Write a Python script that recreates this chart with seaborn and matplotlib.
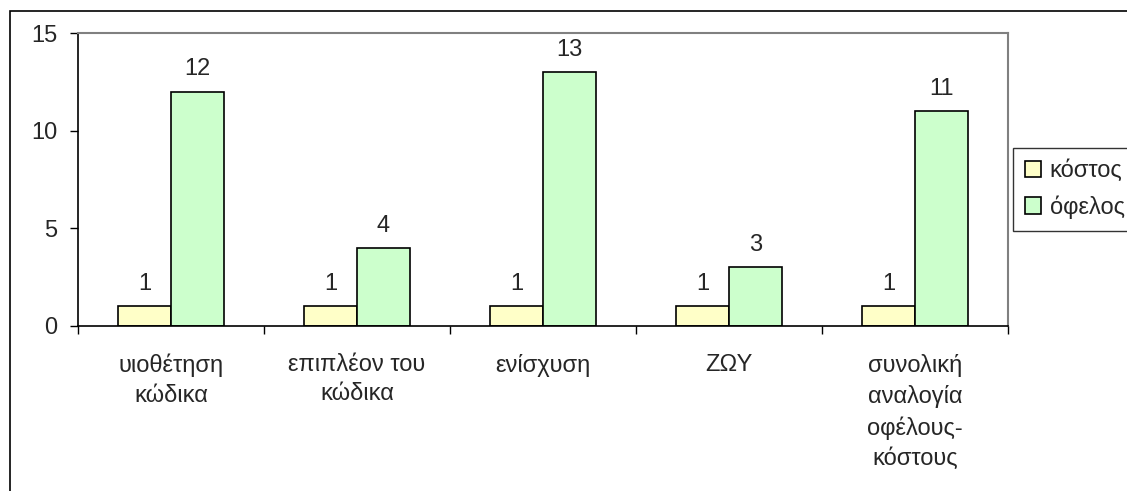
import numpy as np
import pandas as pd
import seaborn as sns
import matplotlib.pyplot as plt
from matplotlib.patches import Rectangle

categories = ["υιοθέτηση\nκώδικα", "επιπλέον του\nκώδικα", "ενίσχυση", "ΖΩΥ",
              "συνολική\nαναλογία\nοφέλους-\nκόστους"]
series = ["κόστος", "όφελος"]
kostos = [1, 1, 1, 1, 1]
ofelos = [12, 4, 13, 3, 11]

df = pd.DataFrame({
    "cat": categories * 2,
    "series": [series[0]] * 5 + [series[1]] * 5,
    "value": kostos + ofelos,
})

sns.set_style("white")
plt.rcParams['font.family'] = ['Liberation Sans', 'DejaVu Sans']
FS = 17

fig = plt.figure(figsize=(11.27, 4.91), dpi=100)
ax = fig.add_axes([78 / 1127, 1 - 326 / 491, 930 / 1127, 293 / 491])

sns.barplot(data=df, x="cat", y="value", hue="series", order=categories,
            hue_order=series, palette=["#FFFFC8", "#CCFFCC"], width=0.57,
            edgecolor="black", linewidth=1.2, saturation=1, ax=ax, legend=True)

for c in ax.containers:
    ax.bar_label(c, padding=8, fontsize=FS)

ax.set_xlim(-0.5, 4.5)
ax.set_ylim(0, 15)
ax.set_yticks([0, 5, 10, 15])
ax.set_xlabel("")
ax.set_ylabel("")
ax.tick_params(axis="y", direction="out", length=6, width=1, labelsize=FS, color="black",
               left=True, pad=9)
ax.tick_params(axis="x", which="major", length=0, labelsize=FS, pad=20)
ax.set_xticks(np.arange(-0.5, 5, 1), minor=True)
ax.tick_params(axis="x", which="minor", direction="out", length=6, width=1, color="black",
               bottom=True)
for lbl in ax.get_xticklabels():
    lbl.set_linespacing(1.45)

for s in ["left", "bottom"]:
    ax.spines[s].set_color("black")
    ax.spines[s].set_linewidth(1.2)
for s in ["top", "right"]:
    ax.spines[s].set_color("#808080")
    ax.spines[s].set_linewidth(1.5)

leg = ax.legend(loc="upper left", bbox_to_anchor=(1013 / 1127, 1 - 148 / 491),
                bbox_transform=fig.transFigure, fontsize=FS, frameon=True,
                fancybox=False, borderpad=0.5, handlelength=0.7, handleheight=0.7,
                handletextpad=0.35, labelspacing=0.55, borderaxespad=0)
leg.get_frame().set_edgecolor("black")
leg.get_frame().set_linewidth(1)

# outer chart border (extends past the image)
fig.patches.append(Rectangle((9.5 / 1127, -0.1), 1.2, 1 - 10.5 / 491 + 0.1,
                             transform=fig.transFigure, fill=False,
                             edgecolor="black", linewidth=1.2))

fig.savefig("out.png", dpi=100)
